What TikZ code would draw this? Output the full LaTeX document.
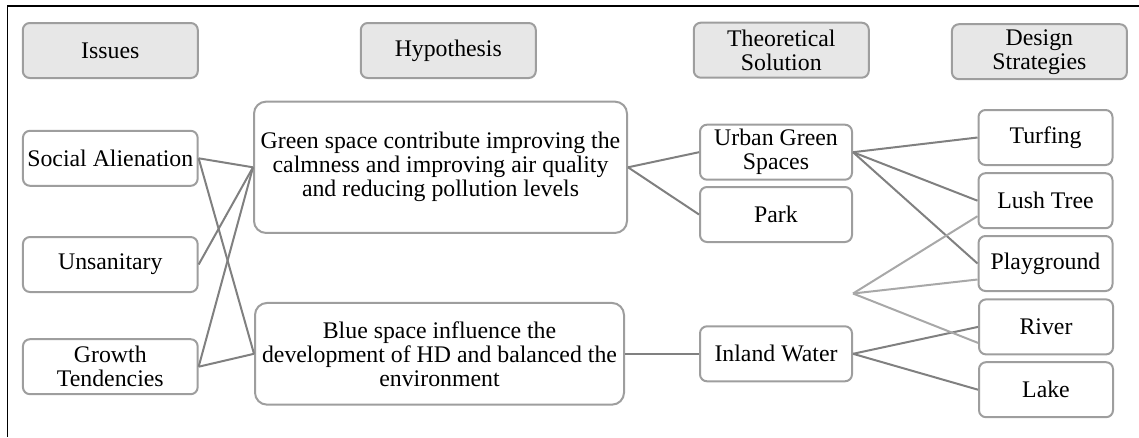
\documentclass[tikz,border=0pt]{standalone}
\usepackage{fontspec}
\setmainfont{Liberation Serif}
\usetikzlibrary{calc}
\definecolor{boxgray}{HTML}{9E9E9E}
\definecolor{linedark}{HTML}{808080}
\definecolor{linelight}{HTML}{A8A8A8}
\definecolor{headfill}{HTML}{E7E7E7}
\begin{document}
\begin{tikzpicture}[x=1pt,y=-1pt,
  base/.style={draw=boxgray, line width=2pt, rounded corners=7pt, align=center, inner sep=0pt, font=\fontsize{23.8}{24}\selectfont},
  head/.style={base, fill=headfill, minimum width=175pt, minimum height=55pt},
  item/.style={base, fill=white, minimum height=55pt},
  big/.style={base, fill=white, rounded corners=12pt},
  conn/.style={draw=linedark, line width=2pt},
  connl/.style={draw=linelight, line width=2pt}]
\useasboundingbox (0,0) rectangle (1139,437);
\draw[black, line width=1.2pt] (1139,6) -- (7.5,6) -- (7.5,437);

% headers
\node[head] (issues) at (110.3,50.5) {Issues};
\node[head] (hyp) at (448.3,50.5) {Hypothesis};
\node[head] (theo) at (781.3,50.2) {Theoretical\\Solution};
\node[head] (design) at (1039.4,51.7) {Design\\Strategies};

% issues
\node[item, minimum width=174.7pt] (social) at (110.3,158.3) {Social Alienation};
\node[item, minimum width=174.7pt] (unsan) at (110.3,264.5) {Unsanitary};
\node[item, minimum width=174.7pt] (growth) at (110.3,366.7) {Growth\\Tendencies};

% hypotheses
\node[big, minimum width=373pt, minimum height=131.3pt] (green) at (440.5,167.3)
  {Green space contribute improving the\\calmness and improving air quality\\and reducing pollution levels};
\node[big, minimum width=369pt, minimum height=101.7pt] (blue) at (439.5,353.8)
  {Blue space influence the\\development of HD and balanced the\\environment};

% theoretical solutions
\node[item, minimum width=152pt] (urban) at (776,152.2) {Urban Green\\Spaces};
\node[item, minimum width=152pt] (park) at (776,214.5) {Park};
\node[item, minimum width=152pt] (inland) at (776,353.8) {Inland Water};

% design strategies
\node[item, minimum width=134pt] (turf) at (1045.5,137.5) {Turfing};
\node[item, minimum width=134pt] (lush) at (1045.5,200.7) {Lush Tree};
\node[item, minimum width=134pt] (play) at (1045.5,263.5) {Playground};
\node[item, minimum width=134pt] (river) at (1046,326.9) {River};
\node[item, minimum width=134pt] (lake) at (1046,389.7) {Lake};

\coordinate (hub) at (853,293.5);

% connectors
\draw[conn] (social.east) -- (green.west);
\draw[conn] (social.east) -- (blue.west);
\draw[conn] (unsan.east) -- (green.west);
\draw[conn] (growth.east) -- (green.west);
\draw[conn] (growth.east) -- (blue.west);
\draw[conn] (green.east) -- (urban.west);
\draw[conn] (green.east) -- (park.west);
\draw[conn] (blue.east) -- (inland.west);
\draw[conn] (urban.east) -- (turf.west);
\draw[conn] (urban.east) -- (lush.west);
\draw[conn] (urban.east) -- (play.west);
\draw[conn] (inland.east) -- (river.west);
\draw[conn] (inland.east) -- (lake.west);
\draw[connl] (hub) -- ($(lush.west)+(0,15.5)$);
\draw[connl] (hub) -- ($(play.west)+(0,16)$);
\draw[connl] (hub) -- ($(river.west)+(0,16)$);
\end{tikzpicture}
\end{document}
